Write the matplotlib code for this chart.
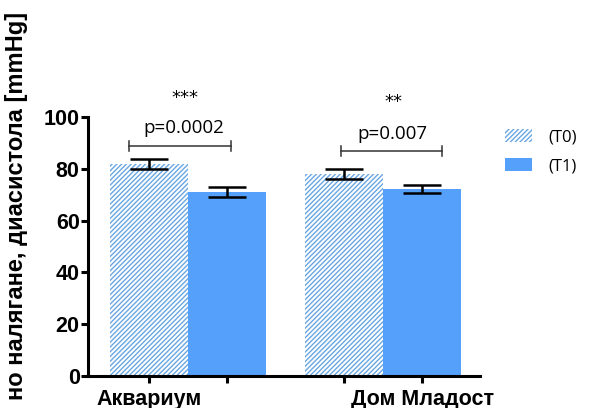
import numpy as np
import matplotlib
matplotlib.use('Agg')
import matplotlib.pyplot as plt

plt.rcParams['font.family'] = ['Liberation Sans', 'DejaVu Sans']
plt.rcParams['hatch.linewidth'] = 1.0

# data
groups = ['Аквариум', 'Дом Младост']
t0_mean = [81.9, 78.0]
t0_err = [1.95, 1.9]
t1_mean = [71.0, 72.2]
t1_err = [1.95, 1.5]
p_values = ['p=0.0002', 'p=0.007']
stars = ['***', '**']

hatch_col = '#6aa6e2'
blue = '#55a0fa'

fig = plt.figure(figsize=(5.92, 4.08), dpi=100)
ax = fig.add_axes([88 / 592, 1 - 376 / 408, (480 - 88) / 592, (376 - 117) / 408])

x = np.arange(len(groups))
w = 0.4

b0 = ax.bar(x - w / 2, t0_mean, w, color='white', edgecolor=hatch_col,
            hatch='///////', linewidth=0, label='(T0)')
b1 = ax.bar(x + w / 2, t1_mean, w, color=blue, linewidth=0, label='(T1)')
ax.errorbar(x - w / 2, t0_mean, yerr=t0_err, fmt='none', ecolor='black',
            elinewidth=1.8, capsize=13.5, capthick=1.8)
ax.errorbar(x + w / 2, t1_mean, yerr=t1_err, fmt='none', ecolor='black',
            elinewidth=1.8, capsize=13.5, capthick=1.8)

# significance brackets
brackets = [(-0.303, 0.22, 88.8), (0.785, 1.303, 86.9)]
text_x = [-0.023, 1.046]
text_y = [93.8, 91.5]
star_y = [107.3, 105.8]
for i, (xa, xb, yb) in enumerate(brackets):
    ax.plot([xa, xb], [yb, yb], color='#333333', lw=1.1, clip_on=False)
    ax.plot([xa, xa], [yb - 2, yb + 2], color='#333333', lw=1.1, clip_on=False)
    ax.plot([xb, xb], [yb - 2, yb + 2], color='#333333', lw=1.1, clip_on=False)
    ax.text(text_x[i], text_y[i], p_values[i], ha='center', va='baseline',
            fontsize=13.5, family=['Open Sans', 'DejaVu Sans'], clip_on=False)
    ax.text(text_x[i] + 0.005, star_y[i], stars[i], ha='center', va='center',
            fontsize=13, family=['DejaVu Sans'], clip_on=False)

ax.set_xlim(-0.513, 1.497)
ax.set_ylim(0, 100)
ax.set_yticks([0, 20, 40, 60, 80, 100])
ax.set_xticks([x[0] - w / 2, x[0] + w / 2, x[1] - w / 2, x[1] + w / 2])
ax.set_xticklabels([groups[0], '', '', groups[1]])

for s in ['top', 'right']:
    ax.spines[s].set_visible(False)
for s in ['left', 'bottom']:
    ax.spines[s].set_linewidth(2.2)

ax.tick_params(axis='both', width=2.2, length=5, labelsize=15.5)
ax.tick_params(axis='y', pad=1)
ax.tick_params(axis='x', pad=4)
for lab in ax.get_xticklabels() + ax.get_yticklabels():
    lab.set_fontweight('bold')

fig.text(17 / 592, 1 - 12 / 408, 'но налягане, диасистола [mmHg]', rotation=90,
         ha='center', va='top', fontsize=17, fontweight='bold')

leg = ax.legend(handles=[b0, b1], loc='upper left', frameon=False,
                bbox_to_anchor=(500 / 592, 1 - 124 / 408),
                bbox_transform=fig.transFigure,
                prop={'family': ['Open Sans', 'DejaVu Sans'], 'size': 12},
                handlelength=1.6, handleheight=0.85, handletextpad=1.0,
                labelspacing=0.75, borderaxespad=0, borderpad=0.3)

fig.savefig('out.png', dpi=100)
